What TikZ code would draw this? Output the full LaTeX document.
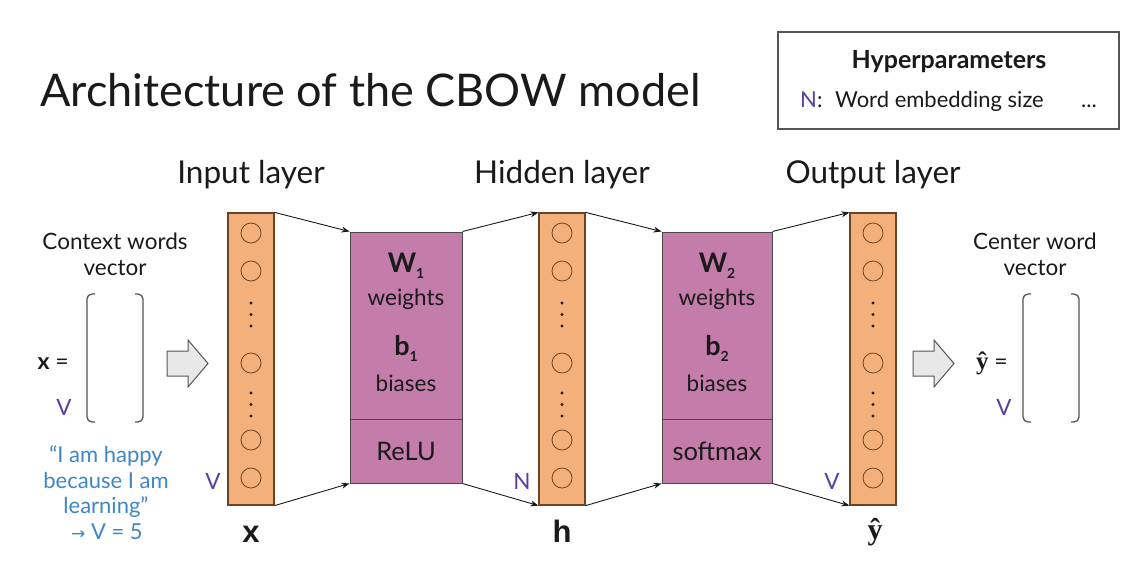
\documentclass[tikz,border=0pt]{standalone}
\usepackage{fontspec}
\setmainfont{Lato}
\newfontfamily\arialb{Liberation Sans}
\newfontfamily\timesf{Liberation Serif}
\newfontfamily\djv{DejaVu Sans}
\usetikzlibrary{arrows.meta}
\definecolor{orng}{HTML}{F4B07A}
\definecolor{brn}{HTML}{6B4423}
\definecolor{pinkb}{HTML}{C47CAA}
\definecolor{purp}{HTML}{5A3FA0}
\definecolor{qblue}{HTML}{3F86C6}
\definecolor{txt}{HTML}{1A1A1A}
\definecolor{grayline}{HTML}{555555}
\newcommand\fsz[2]{\fontsize{#1}{#2}\selectfont}
\newcommand\subl[1]{\raisebox{-0.45ex}{\fsz{14}{14}#1}}
\begin{document}
\begin{tikzpicture}[x=1pt,y=-1pt,
  col/.style={draw=brn, fill=orng, line width=1.2pt, minimum width=46pt, minimum height=292pt, inner sep=0pt},
  neuron/.style={circle, draw=brn, line width=0.8pt, minimum size=20pt, inner sep=0pt},
  wbox/.style={draw=txt!80, fill=pinkb, line width=1pt, minimum height=251pt, inner sep=0pt},
  conn/.style={draw=txt, line width=0.9pt, -{Stealth[length=8pt,width=6pt]}},
  lbl/.style={text=txt, inner sep=0pt, anchor=base},
  head/.style={lbl, font=\fsz{31.5}{36}},
  small/.style={lbl, font=\fsz{22.5}{26}},
  vlab/.style={lbl, text=purp, font=\fsz{22.5}{26}},
  blockarrow/.style={draw=grayline, fill=black!9, line width=1pt, line join=miter},
  brack/.style={draw=grayline, line width=1.3pt, rounded corners=5pt}
]
\useasboundingbox (0,0) rectangle (1139,582);
\fill[white] (0,0) rectangle (1139,582);

% title
\node[lbl, anchor=base west, font=\fsz{45}{52}] (title) at (40,106) {Architecture of the CBOW model};

% hyperparameters box
\node[draw=grayline, line width=1.2pt, minimum width=341pt, minimum height=97pt, inner sep=0pt] (hyp) at (948.5,80.5) {};
\node[lbl, font=\bfseries\fsz{25}{28}] (hyptitle) at (949,68) {Hyperparameters};
\node[lbl, anchor=base west, font=\fsz{22}{26}] (hypN) at (800,107) {\textcolor{purp}{N}:};
\node[lbl, anchor=base west, font=\fsz{22}{26}] (hypW) at (835,107) {Word embedding size};
\node[lbl, anchor=base west, font=\fsz{22}{26}] (hypD) at (1081,107) {...};

% layer headings
\node[head] (hin) at (251,183) {Input layer};
\node[head] (hhid) at (562,183) {Hidden layer};
\node[head] (hout) at (873,183) {Output layer};

% columns
\foreach \c/\x in {cin/251, chid/562, cout/873}{
  \node[col] (\c) at (\x,359) {};
  \foreach \k/\y in {1/233, 2/271, 3/363, 4/440, 5/478}{
    \node[neuron] (\c\k) at (\x,\y) {};
  }
  \foreach \y in {303,314.5,326,393,404.5,416}{
    \fill[txt] (\x,\y) circle (1.7pt);
  }
}

% weight boxes
\node[wbox, minimum width=112pt] (w1) at (406,357.5) {};
\node[wbox, minimum width=110pt] (w2) at (717,357.5) {};
\draw[txt!80, line width=1pt] (w1.west |- 0,419) coordinate (w1d) -- (w1.east |- 0,419);
\draw[txt!80, line width=1pt] (w2.west |- 0,419) coordinate (w2d) -- (w2.east |- 0,419);

\node[lbl, font=\bfseries\fsz{27}{30}] (w1W) at (406,272) {W\subl{1}};
\node[small] (w1w) at (406,305) {weights};
\node[lbl, font=\bfseries\fsz{27}{30}] (w1b) at (406,355) {b\subl{1}};
\node[small] (w1bi) at (406,391) {biases};
\node[small, font=\fsz{25.5}{28}] (w1r) at (406,460) {ReLU};

\node[lbl, font=\bfseries\fsz{27}{30}] (w2W) at (717,272) {W\subl{2}};
\node[small] (w2w) at (717,305) {weights};
\node[lbl, font=\bfseries\fsz{27}{30}] (w2b) at (717,355) {b\subl{2}};
\node[small] (w2bi) at (717,391) {biases};
\node[small, font=\fsz{25.5}{28}] (w2s) at (717,460) {softmax};

% connectors
\draw[conn] (cin.north east) -- (w1.north west);
\draw[conn] (cin.south east) -- (w1.south west);
\draw[conn] (w1.north east) -- (chid.north west);
\draw[conn] (w1.south east) -- (chid.south west);
\draw[conn] (chid.north east) -- (w2.north west);
\draw[conn] (chid.south east) -- (w2.south west);
\draw[conn] (w2.north east) -- (cout.north west);
\draw[conn] (w2.south east) -- (cout.south west);

% size labels
\node[vlab] (vin) at (213,489) {V};
\node[vlab] (nhid) at (522,489) {N};
\node[vlab] (vout) at (832,489) {V};

% bottom labels
\node[lbl, font=\arialb\bfseries\fsz{31}{34}] (xl) at (251,542) {x};
\node[lbl, font=\arialb\bfseries\fsz{31}{34}] (hl) at (562,542) {h};
\node[lbl, font=\timesf\bfseries\fsz{30}{34}] (yl) at (875,539) {ŷ};

% left side
\node[small] (ctx1) at (115,249) {Context words};
\node[small] (ctx2) at (115,275) {vector};
\node[lbl, anchor=base east, font=\fsz{23}{26}] (xeq) at (69,369) {{\bfseries x} =};
\node[vlab] (vleft) at (64,415) {V};
\draw[brack] (95,294) -- (87,294) -- (87,422) -- (95,422);
\draw[brack] (135,294) -- (143,294) -- (143,422) -- (135,422);
\draw[blockarrow] (167,351) -- (188,351) -- (188,340) -- (208,363.5) -- (188,387) -- (188,376) -- (167,376) -- cycle;

\node[lbl, text=qblue, font=\fsz{22}{26}] (q1) at (106,462) {“I am happy};
\node[lbl, text=qblue, font=\fsz{22}{26}] (q2) at (106,488) {because I am};
\node[lbl, text=qblue, font=\fsz{22}{26}] (q3) at (106,513) {learning”};
\node[lbl, text=qblue, font=\fsz{22}{26}] (q4) at (107,539) {{\djv\fsz{17}{20}→} V = 5};

% right side
\node[small] (cw1) at (1035,249) {Center word};
\node[small] (cw2) at (1035,275) {vector};
\draw[blockarrow] (913,351) -- (934,351) -- (934,340) -- (954,363.5) -- (934,387) -- (934,376) -- (913,376) -- cycle;
\node[lbl, anchor=base east, font=\fsz{23}{26}] (yeq) at (1008,369) {{\timesf\bfseries\fsz{25}{28}ŷ} =};
\node[vlab] (vright) at (1004,415) {V};
\draw[brack] (1031,294) -- (1023,294) -- (1023,422) -- (1031,422);
\draw[brack] (1071,294) -- (1079,294) -- (1079,422) -- (1071,422);
\end{tikzpicture}
\end{document}
